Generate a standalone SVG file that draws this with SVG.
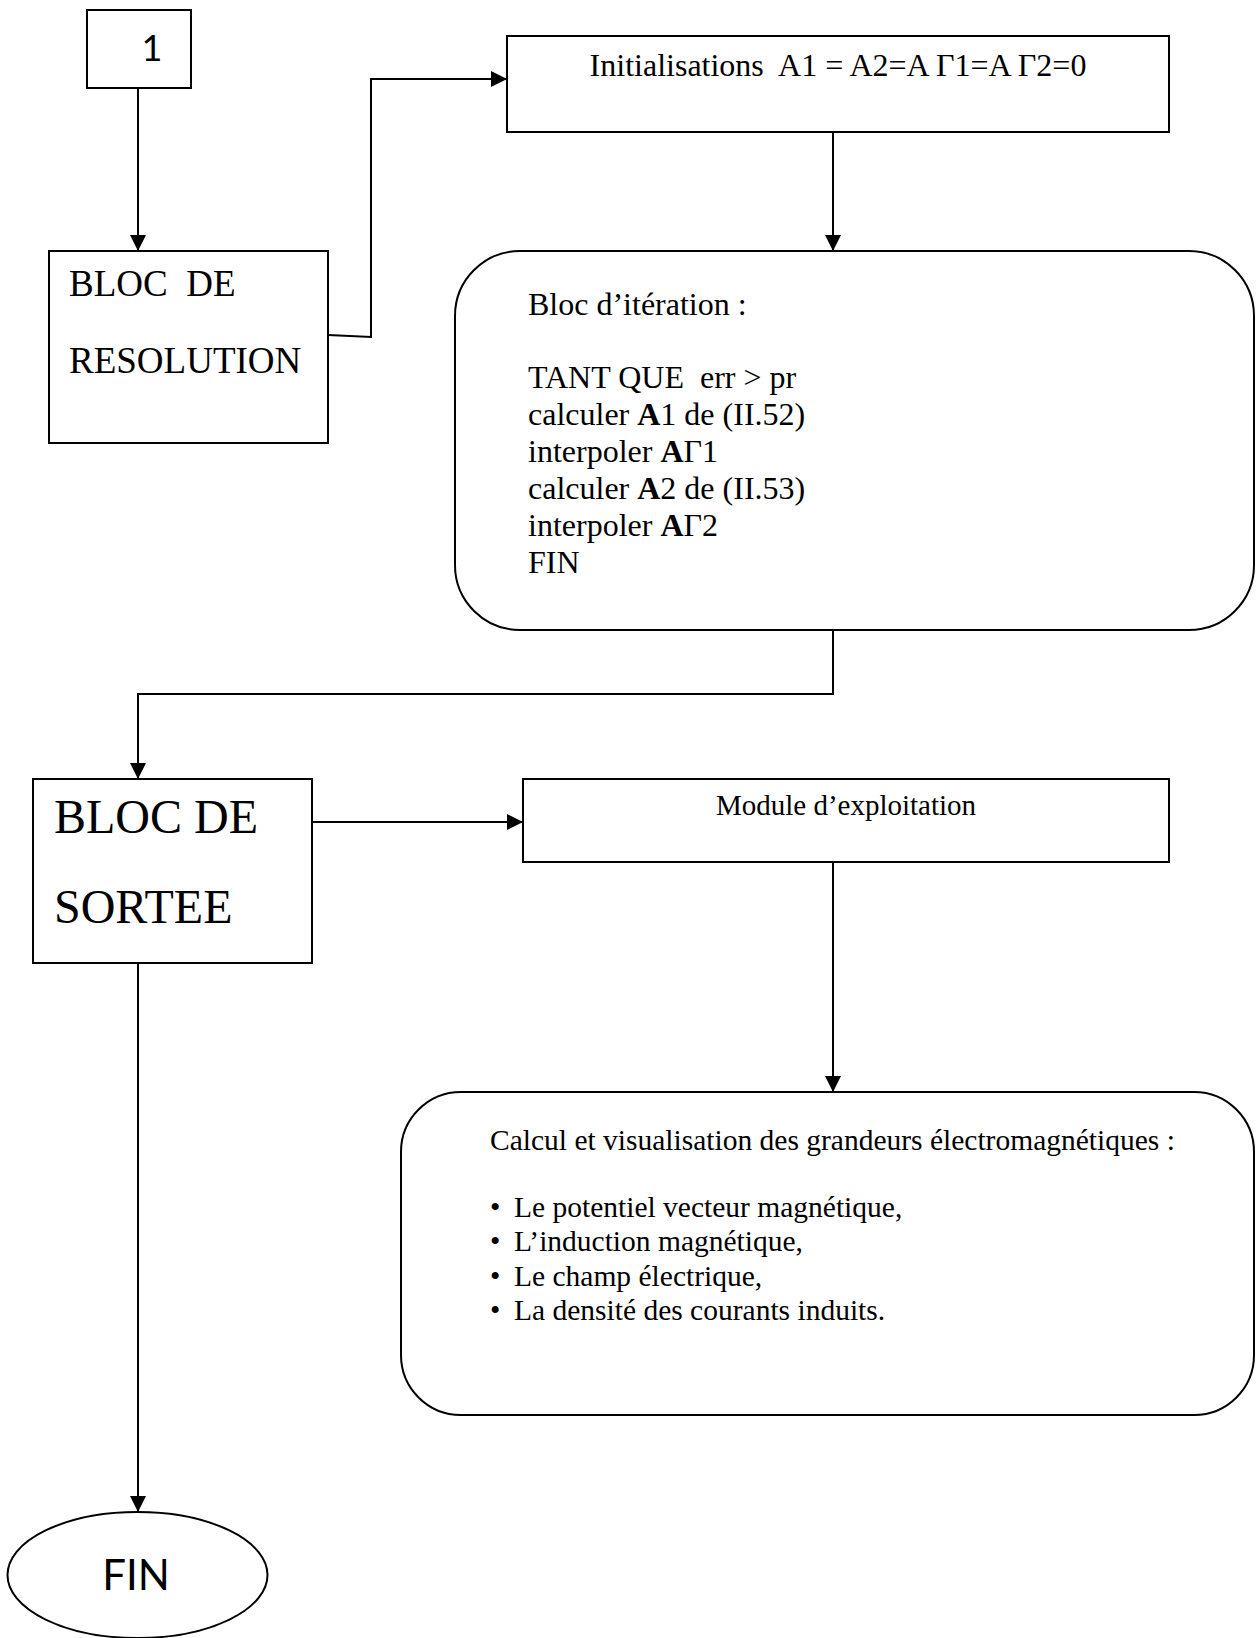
<svg xmlns="http://www.w3.org/2000/svg" width="1256" height="1638" viewBox="0 0 1256 1638">
  <style>
    .box { fill: #ffffff; stroke: #000000; stroke-width: 2; }
    .wire { fill: none; stroke: #000000; stroke-width: 2; }
    .serif { font-family: "Liberation Serif", "Times New Roman", serif; fill: #000000; }
    .sans { font-family: Lato, "Open Sans", "Liberation Sans", sans-serif; fill: #000000; }
    .b { font-weight: bold; }
  </style>
  <defs>
    <marker id="arrow" markerUnits="userSpaceOnUse" markerWidth="16" markerHeight="16" viewBox="0 0 16 16" refX="16" refY="8" orient="auto">
      <path d="M0,0 L16,8 L0,16 z" fill="#000000"/>
    </marker>
  </defs>

  <rect width="1256" height="1638" fill="#ffffff"/>

  <!-- connectors -->
  <g id="connectors">
    <path class="wire" d="M138,88 V251" marker-end="url(#arrow)"/>
    <path class="wire" d="M328,335 L371,337 V79 H507" marker-end="url(#arrow)"/>
    <path class="wire" d="M833,132 V251" marker-end="url(#arrow)"/>
    <path class="wire" d="M833,630 V694 H138 V779" marker-end="url(#arrow)"/>
    <path class="wire" d="M312,822 H523" marker-end="url(#arrow)"/>
    <path class="wire" d="M833,862 V1092" marker-end="url(#arrow)"/>
    <path class="wire" d="M138,963 V1512" marker-end="url(#arrow)"/>
  </g>

  <!-- start marker -->
  <g id="node-start">
    <rect class="box" x="87" y="10" width="104" height="78"/>
    <text class="sans" x="152" y="61" font-size="36" text-anchor="middle">1</text>
  </g>

  <!-- solver block -->
  <g id="node-resolution">
    <rect class="box" x="49" y="251" width="279" height="192"/>
    <text class="serif" x="69" y="296" font-size="37" xml:space="preserve">BLOC  DE</text>
    <text class="serif" x="69" y="373" font-size="37">RESOLUTION</text>
  </g>

  <!-- initialisation -->
  <g id="node-init">
    <rect class="box" x="507" y="36" width="662" height="96"/>
    <text class="serif" x="838" y="76" font-size="32" text-anchor="middle" xml:space="preserve">Initialisations  A1 = A2=A Γ1=A Γ2=0</text>
  </g>

  <!-- iteration loop -->
  <g id="node-iteration">
    <rect class="box" x="455" y="251" width="799" height="379" rx="65" ry="65"/>
    <text class="serif" font-size="32">
      <tspan x="528" y="315">Bloc d’itération :</tspan>
      <tspan x="528" y="388" xml:space="preserve">TANT QUE  err &gt; pr</tspan>
      <tspan x="528" y="425">calculer <tspan class="b">A</tspan>1 de (II.52)</tspan>
      <tspan x="528" y="462">interpoler <tspan class="b">A</tspan>Γ1</tspan>
      <tspan x="528" y="499">calculer <tspan class="b">A</tspan>2 de (II.53)</tspan>
      <tspan x="528" y="536">interpoler <tspan class="b">A</tspan>Γ2</tspan>
      <tspan x="528" y="573">FIN</tspan>
    </text>
  </g>

  <!-- output block -->
  <g id="node-sortee">
    <rect class="box" x="33" y="779" width="279" height="184"/>
    <text class="serif" x="54" y="833" font-size="48">BLOC DE</text>
    <text class="serif" x="54" y="923" font-size="48">SORTEE</text>
  </g>

  <!-- post-processing module -->
  <g id="node-module">
    <rect class="box" x="523" y="779" width="646" height="83"/>
    <text class="serif" x="846" y="815" font-size="29" text-anchor="middle">Module d’exploitation</text>
  </g>

  <!-- computed quantities -->
  <g id="node-calcul">
    <rect class="box" x="401" y="1092" width="853" height="323" rx="60" ry="60"/>
    <text class="serif" x="490" y="1150" font-size="29.5">Calcul et visualisation des grandeurs électromagnétiques :</text>
    <g class="serif" font-size="29.5">
      <text x="490" y="1217">•</text><text x="514" y="1217">Le potentiel vecteur magnétique,</text>
      <text x="490" y="1251">•</text><text x="514" y="1251">L’induction magnétique,</text>
      <text x="490" y="1286">•</text><text x="514" y="1286">Le champ électrique,</text>
      <text x="490" y="1320">•</text><text x="514" y="1320">La densité des courants induits.</text>
    </g>
  </g>

  <!-- end -->
  <g id="node-fin">
    <ellipse class="box" cx="137.5" cy="1575" rx="130" ry="63"/>
    <text class="sans" x="136" y="1590" font-size="42" text-anchor="middle">FIN</text>
  </g>
</svg>
